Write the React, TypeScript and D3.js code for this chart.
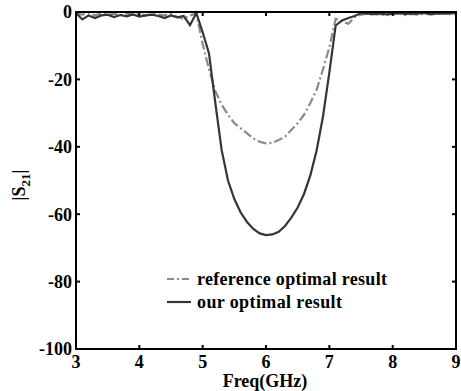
import React from "react";
import * as d3 from "d3";

const freqs = [3.0,3.1,3.2,3.3,3.4,3.5,3.6,3.7,3.8,3.9,4.0,4.1,4.2,4.3,4.4,4.5,4.6,4.7,4.8,4.9,5.0,5.1,5.2,5.3,5.4,5.5,5.6,5.7,5.8,5.9,6.0,6.1,6.2,6.3,6.4,6.5,6.6,6.7,6.8,6.9,7.0,7.1,7.2,7.3,7.4,7.5,7.6,7.7,7.8,7.9,8.0,8.1,8.2,8.3,8.4,8.5,8.6,8.7,8.8,8.9,9.0];

const ourResult = [-0.3,-2.2,-1.0,-1.8,-1.0,-0.8,-1.5,-0.9,-1.3,-0.7,-1.4,-1.0,-0.8,-1.2,-1.8,-1.0,-1.6,-1.2,-3.9,-0.3,-6.0,-12.3,-27,-41,-50,-55.5,-59.5,-62.3,-64.4,-65.7,-66.2,-66,-65.2,-63.5,-61,-58,-54,-48.5,-41,-31,-18,-4,-2.5,-1.8,-1.2,-0.3,-0.5,-0.6,-0.4,-0.7,-0.5,-0.3,-0.6,-0.4,-0.5,-0.3,-0.6,-0.4,-0.5,-0.3,-0.4];

const referenceResult = [-0.5,-0.8,-0.3,-1.0,-0.4,-0.9,-0.5,-1.0,-0.4,-0.8,-0.5,-1.1,-0.5,-0.8,-1.0,-0.6,-1.5,-2.0,-1.0,-0.5,-9.5,-17,-23.5,-27.5,-30.5,-33,-34.5,-36,-37.5,-38.5,-39,-38.8,-38,-37,-35,-33,-30.5,-27,-23,-17,-10.5,-2,-2.8,-3.5,-1.5,-0.8,-0.5,-0.9,-0.6,-1.0,-0.7,-0.5,-0.9,-0.6,-0.8,-0.5,-0.7,-0.6,-0.4,-0.6,-0.5];

const xTicks = [3,4,5,6,7,8,9];
const yTicks = [0,-20,-40,-60,-80,-100];
const legendLabels = ["reference optimal result", "our optimal result"];

const W = 461, H = 391;
const L = 76, R = 456, T = 12, B = 349;
const font = "'Liberation Serif', 'Times New Roman', serif";

export default function App() {
  const x = d3.scaleLinear().domain([3, 9]).range([L, R]);
  const y = d3.scaleLinear().domain([-100, 0]).range([B, T]);
  const line = d3.line<number>().x((_, i) => x(freqs[i])).y((v) => y(v));
  const tl = 4;
  return (
    <svg width={W} height={H} style={{ position: "absolute", left: 0, top: 0, background: "#fff" }}>
      <rect x={0} y={0} width={W} height={H} fill="#fff" />
      <path d={line(referenceResult) || ""} fill="none" stroke="#8a8a8a" strokeWidth={2.2} strokeDasharray="9,3,2,3" />
      <path d={line(ourResult) || ""} fill="none" stroke="#353535" strokeWidth={2.2} />
      <rect x={L} y={T} width={R - L} height={B - T} fill="none" stroke="#000" strokeWidth={2} />
      {xTicks.map((t) => (
        <g key={"x" + t}>
          <line x1={x(t)} x2={x(t)} y1={B} y2={B - tl} stroke="#000" strokeWidth={2} />
          <line x1={x(t)} x2={x(t)} y1={T} y2={T + tl} stroke="#000" strokeWidth={2} />
          <text x={x(t)} y={368} textAnchor="middle" fontFamily={font} fontWeight="bold" fontSize={18}>{t}</text>
        </g>
      ))}
      {yTicks.map((t) => (
        <g key={"y" + t}>
          <line x1={L} x2={L + tl} y1={y(t)} y2={y(t)} stroke="#000" strokeWidth={2} />
          <line x1={R} x2={R - tl} y1={y(t)} y2={y(t)} stroke="#000" strokeWidth={2} />
          <text x={72} y={y(t)} dy="0.35em" textAnchor="end" fontFamily={font} fontWeight="bold" fontSize={18}>{t}</text>
        </g>
      ))}
      <text x={265} y={387} textAnchor="middle" fontFamily={font} fontWeight="bold" fontSize={18}>Freq(GHz)</text>
      <text transform="translate(25,185) rotate(-90)" textAnchor="middle" fontFamily={font} fontWeight="bold" fontSize={18}>
        |S<tspan fontSize={13} dy="5">21</tspan><tspan dy="-5">|</tspan>
      </text>
      <line x1={167} x2={191} y1={279} y2={279} stroke="#8a8a8a" strokeWidth={2.2} strokeDasharray="7,3,2,3" />
      <text x={197} y={285} fontFamily={font} fontWeight="bold" fontSize={18} textLength={190} lengthAdjust="spacing">{legendLabels[0]}</text>
      <line x1={167} x2={191} y1={302} y2={302} stroke="#353535" strokeWidth={2.2} />
      <text x={197} y={308} fontFamily={font} fontWeight="bold" fontSize={18} textLength={145} lengthAdjust="spacing">{legendLabels[1]}</text>
    </svg>
  );
}
